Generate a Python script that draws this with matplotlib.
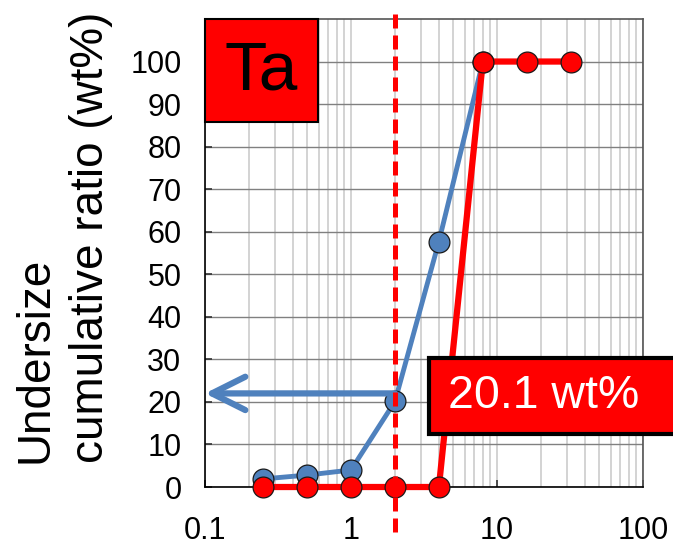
"""Undersize cumulative ratio of Ta vs particle size (log scale)."""

import matplotlib
matplotlib.use("Agg")
import matplotlib.pyplot as plt
from matplotlib.patches import Rectangle

plt.rcParams["font.family"] = ["Liberation Sans", "DejaVu Sans"]

# particle size (mm) and cumulative undersize (wt%)
BLUE_SIZE = [0.25, 0.5, 1, 2, 4, 8]
BLUE_RATIO = [1.9, 2.8, 4.0, 20.1, 57.7, 100]
RED_SIZE = [0.25, 0.5, 1, 2, 4, 8, 16, 32]
RED_RATIO = [0, 0, 0, 0, 0, 100, 100, 100]
Y_TICKS = list(range(0, 101, 10))
X_TICKS = [0.1, 1, 10, 100]
X_TICK_LABELS = ["0.1", "1", "10", "100"]
CUT_SIZE = 2
ARROW_Y = 22
ELEMENT = "Ta"

BLUE = "#4F81BD"
RED = "#FF0000"


def main() -> None:
    fig = plt.figure(figsize=(6.73, 5.41), dpi=100)
    ax = fig.add_axes([0.3046, 0.0998, 0.6508, 0.8651])

    ax.set_xscale("log")
    ax.set_xlim(0.1, 100)
    ax.set_ylim(0, 110)
    ax.set_yticks(Y_TICKS)
    ax.set_yticklabels([str(v) for v in Y_TICKS])
    ax.set_xticks(X_TICKS)
    ax.set_xticklabels(X_TICK_LABELS)
    ax.tick_params(axis="both", which="major", direction="in", length=5,
                   width=1.2, labelsize=22, color="#333333")
    ax.tick_params(axis="y", pad=17)
    ax.tick_params(axis="x", pad=21)
    ax.tick_params(axis="x", which="minor", length=0)

    ax.grid(axis="y", which="major", color="#808080", lw=1.0)
    ax.grid(axis="x", which="both", color="#d0d0d0", lw=1.3)
    ax.set_axisbelow(True)

    for side in ["left", "bottom"]:
        ax.spines[side].set_color("black")
        ax.spines[side].set_linewidth(1.2)
    for side in ["top", "right"]:
        ax.spines[side].set_color("#555555")
        ax.spines[side].set_linewidth(1.2)

    ax.plot(BLUE_SIZE, BLUE_RATIO, color=BLUE, lw=3.5, marker="o", ms=15,
            mfc=BLUE, mec="#1a1a1a", mew=0.9, clip_on=False, zorder=3)
    ax.plot(RED_SIZE, RED_RATIO, color=RED, lw=4.5, marker="o", ms=15,
            mfc=RED, mec="#1a1a1a", mew=0.9, clip_on=False, zorder=4)

    # arrow pointing back to the y axis at the cut size
    ax.annotate("", xy=(0.1, ARROW_Y), xytext=(CUT_SIZE, ARROW_Y),
                arrowprops=dict(arrowstyle="->,head_length=1.0,head_width=0.5",
                                color=BLUE, lw=4.5, mutation_scale=24,
                                shrinkA=0, shrinkB=0, capstyle="round",
                                joinstyle="round"),
                zorder=5)

    ax.axvline(CUT_SIZE, ymin=-0.096, ymax=1.0235, color=RED, lw=3.6,
               dashes=(2.8, 1.4), clip_on=False, zorder=10)

    # element tag in the upper left corner
    ax.add_patch(Rectangle((0, 0.78), 0.258, 0.22, transform=ax.transAxes,
                           facecolor=RED, edgecolor="black", lw=1.5,
                           clip_on=False, zorder=6))
    ax.text(0.129, 0.888, ELEMENT, transform=ax.transAxes, ha="center",
            va="center", fontsize=50, color="black", zorder=7)

    # value box for the cut size
    fig.patches.append(Rectangle((0.638, 0.197), 0.40, 0.141,
                                 transform=fig.transFigure, facecolor=RED,
                                 edgecolor="black", lw=3, zorder=8))
    fig.text(0.666, 0.268, f"{BLUE_RATIO[BLUE_SIZE.index(CUT_SIZE)]} wt%",
             ha="left", va="center", fontsize=33.5, color="white", zorder=9)

    fig.text(0.094, 0.561, "Undersize\ncumulative ratio (wt%)", rotation=90,
             ha="center", va="center", multialignment="left", fontsize=33,
             linespacing=1.32)

    fig.savefig("out.png", dpi=100)
    plt.close(fig)


if __name__ == "__main__":
    main()
